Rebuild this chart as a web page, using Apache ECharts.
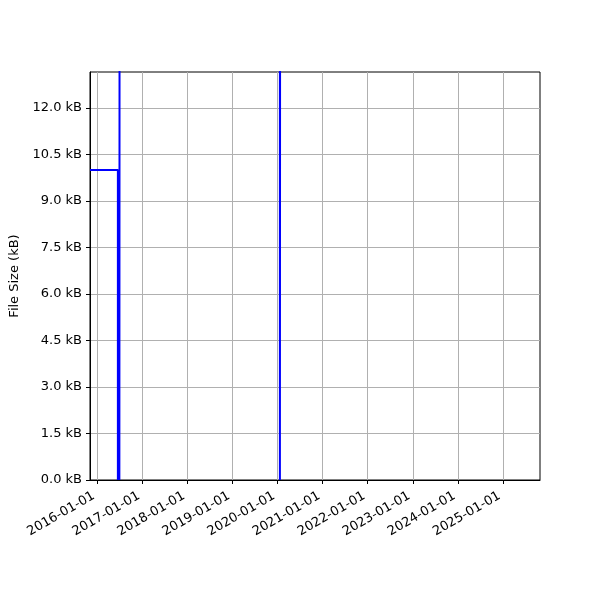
<!DOCTYPE html>
<html>
<head>
<meta charset="utf-8">
<script src="https://cdn.jsdelivr.net/npm/echarts@6/dist/echarts.min.js"></script>
<style>html,body{margin:0;padding:0;background:#fff}#c{width:600px;height:600px}</style>
</head>
<body>
<div id="c"></div>
<script>
// Data (file size in kB over time; values above the axis top are off-chart)
const dates = ['2015-11-03','2016-06-16','2016-06-18','2016-06-20','2016-06-22','2016-06-24','2016-06-26','2016-06-28','2016-06-30','2020-01-20','2020-01-22','2025-05-11'];
const sizes = [10.0, 0, 10.0, 0, 10.0, 0, 10.0, 0, 20.0, 0, 20.0, 20.0];
const xTickLabels = ['2016-01-01','2017-01-01','2018-01-01','2019-01-01','2020-01-01','2021-01-01','2022-01-01','2023-01-01','2024-01-01','2025-01-01'];
const yTicks = [0, 1.5, 3.0, 4.5, 6.0, 7.5, 9.0, 10.5, 12.0];
const xMin = '2015-11-03', xMax = '2025-10-28';
const yMax = 13.16;

const font = 'DejaVu Sans';
const ts = s => new Date(s + 'T00:00:00Z').getTime();
const chart = echarts.init(document.getElementById('c'), null, {renderer: 'canvas'});
const xTickVals = xTickLabels.map(ts);
const pad = n => (n < 10 ? '0' : '') + n;
chart.setOption({
  animation: false,
  backgroundColor: '#fff',
  grid: {left: 90, right: 60, top: 72, bottom: 120, show: true, borderColor: '#000', borderWidth: 1, backgroundColor: 'transparent'},
  xAxis: {
    type: 'value',
    min: ts(xMin),
    max: ts(xMax),
    axisLine: {show: true, lineStyle: {color: '#000', width: 1}},
    axisTick: {show: true, length: 4, lineStyle: {color: '#000', width: 1}, customValues: xTickVals},
    axisLabel: {
      customValues: xTickVals,
      rotate: 30, fontFamily: font, fontSize: 13, color: '#000', margin: 13, padding: [0, 4, 0, 0],
      formatter: v => { const d = new Date(v); return d.getUTCFullYear() + '-' + pad(d.getUTCMonth() + 1) + '-' + pad(d.getUTCDate()); }
    },
    splitLine: {show: true, lineStyle: {color: '#b0b0b0', width: 1}}
  },
  yAxis: {
    type: 'value', min: 0, max: yMax,
    name: 'File Size (kB)', nameLocation: 'middle', nameGap: 67,
    nameTextStyle: {fontFamily: font, fontSize: 13, color: '#000'},
    axisLine: {show: true, lineStyle: {color: '#000', width: 1}},
    axisTick: {show: true, length: 4, lineStyle: {color: '#000', width: 1}, customValues: yTicks},
    axisLabel: {customValues: yTicks, fontFamily: font, fontSize: 13, color: '#000', margin: 8,
      formatter: v => v.toFixed(1) + ' kB'},
    splitLine: {show: true, lineStyle: {color: '#b0b0b0', width: 1}}
  },
  series: [{
    type: 'line', step: 'end', showSymbol: false, symbol: 'none', clip: true,
    data: dates.map((d, i) => [ts(d), sizes[i]]),
    lineStyle: {color: '#0000ff', width: 2}
  }]
});
</script>
</body>
</html>
